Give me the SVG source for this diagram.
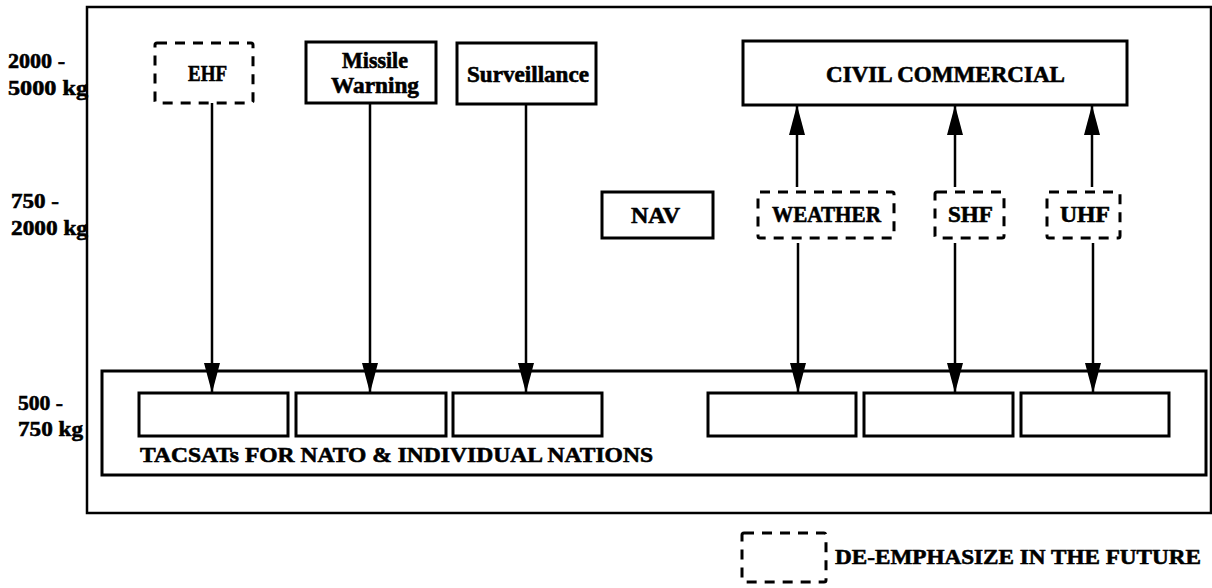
<svg xmlns="http://www.w3.org/2000/svg" width="1212" height="588" viewBox="0 0 1212 588">
<style>
text{font-family:"Liberation Serif","Times New Roman",serif;font-weight:bold;font-size:23px;fill:#000;stroke:#000;stroke-width:0.6}
.sm{font-size:22px}
.box{fill:none;stroke:#000;stroke-width:3}
.dash{fill:none;stroke:#000;stroke-width:3;stroke-dasharray:10 8}
.frame{fill:none;stroke:#000;stroke-width:2.5}
.conn{stroke:#000;stroke-width:2.5;fill:none}
</style>
<defs>
<marker id="arr" markerUnits="userSpaceOnUse" markerWidth="30" markerHeight="16" refX="30" refY="8" orient="auto">
<path d="M0,0 L30,8 L0,16 z" fill="#000"/>
</marker>
</defs>
<rect width="1212" height="588" fill="#fff"/>
<g id="frame">
<rect class="frame" x="87" y="7" width="1124" height="506"/>
</g>
<g id="axis-labels">
<text class="sm" x="8" y="68" textLength="57" lengthAdjust="spacingAndGlyphs">2000 -</text>
<text class="sm" x="8" y="95" textLength="80" lengthAdjust="spacingAndGlyphs">5000 kg</text>
<text class="sm" x="11" y="208" textLength="48" lengthAdjust="spacingAndGlyphs">750 -</text>
<text class="sm" x="11" y="235" textLength="77" lengthAdjust="spacingAndGlyphs">2000 kg</text>
<text class="sm" x="18" y="410" textLength="45" lengthAdjust="spacingAndGlyphs">500 -</text>
<text class="sm" x="18" y="436" textLength="65" lengthAdjust="spacingAndGlyphs">750 kg</text>
</g>
<g id="ehf">
<rect class="dash" x="155" y="43" width="98" height="60" rx="2"/>
<text x="188" y="81" textLength="39" lengthAdjust="spacingAndGlyphs">EHF</text>
</g>
<g id="missile-warning">
<rect class="box" x="306" y="42" width="130" height="61"/>
<text x="342" y="68" textLength="66" lengthAdjust="spacingAndGlyphs">Missile</text>
<text x="331" y="93" textLength="88" lengthAdjust="spacingAndGlyphs">Warning</text>
</g>
<g id="surveillance">
<rect class="box" x="457" y="43" width="139" height="61"/>
<text x="467" y="82" textLength="122" lengthAdjust="spacingAndGlyphs">Surveillance</text>
</g>
<g id="civil-commercial">
<rect class="box" x="743" y="41" width="384" height="64"/>
<text x="826" y="82" textLength="239" lengthAdjust="spacingAndGlyphs">CIVIL COMMERCIAL</text>
</g>
<g id="nav">
<rect class="box" x="602" y="192" width="111" height="46"/>
<text x="631" y="223" textLength="49" lengthAdjust="spacingAndGlyphs">NAV</text>
</g>
<g id="weather">
<rect class="dash" x="758" y="192" width="136" height="46" rx="2"/>
<text x="772" y="222" textLength="109" lengthAdjust="spacingAndGlyphs">WEATHER</text>
</g>
<g id="shf">
<rect class="dash" x="935" y="192" width="69" height="46" rx="2"/>
<text x="948" y="222" textLength="45" lengthAdjust="spacingAndGlyphs">SHF</text>
</g>
<g id="uhf">
<rect class="dash" x="1047" y="192" width="73" height="46" rx="2"/>
<text x="1060" y="222" textLength="50" lengthAdjust="spacingAndGlyphs">UHF</text>
</g>
<g id="tacsats">
<rect class="box" x="102" y="371" width="1104" height="104"/>
<text class="sm" x="140" y="462" textLength="513" lengthAdjust="spacingAndGlyphs">TACSATs FOR NATO &amp; INDIVIDUAL NATIONS</text>
</g>
<g id="tacsat-1"><rect class="box" x="139" y="393" width="149" height="43"/></g>
<g id="tacsat-2"><rect class="box" x="296" y="393" width="150" height="43"/></g>
<g id="tacsat-3"><rect class="box" x="453" y="393" width="149" height="43"/></g>
<g id="tacsat-4"><rect class="box" x="708" y="393" width="148" height="43"/></g>
<g id="tacsat-5"><rect class="box" x="864" y="393" width="149" height="43"/></g>
<g id="tacsat-6"><rect class="box" x="1021" y="393" width="148" height="43"/></g>
<g id="connectors">
<line class="conn" x1="212" y1="103" x2="212" y2="393" marker-end="url(#arr)"/>
<line class="conn" x1="370" y1="103" x2="370" y2="393" marker-end="url(#arr)"/>
<line class="conn" x1="526" y1="104" x2="526" y2="393" marker-end="url(#arr)"/>
<line class="conn" x1="798" y1="243" x2="798" y2="393" marker-end="url(#arr)"/>
<line class="conn" x1="955" y1="243" x2="955" y2="393" marker-end="url(#arr)"/>
<line class="conn" x1="1093" y1="243" x2="1093" y2="393" marker-end="url(#arr)"/>
<line class="conn" x1="797" y1="187" x2="797" y2="105" marker-end="url(#arr)"/>
<line class="conn" x1="955" y1="187" x2="955" y2="105" marker-end="url(#arr)"/>
<line class="conn" x1="1092" y1="187" x2="1092" y2="105" marker-end="url(#arr)"/>
</g>
<g id="legend">
<rect class="dash" x="742" y="533" width="84" height="49" rx="2"/>
<text class="sm" x="835" y="564" textLength="366" lengthAdjust="spacingAndGlyphs">DE-EMPHASIZE IN THE FUTURE</text>
</g>
</svg>
